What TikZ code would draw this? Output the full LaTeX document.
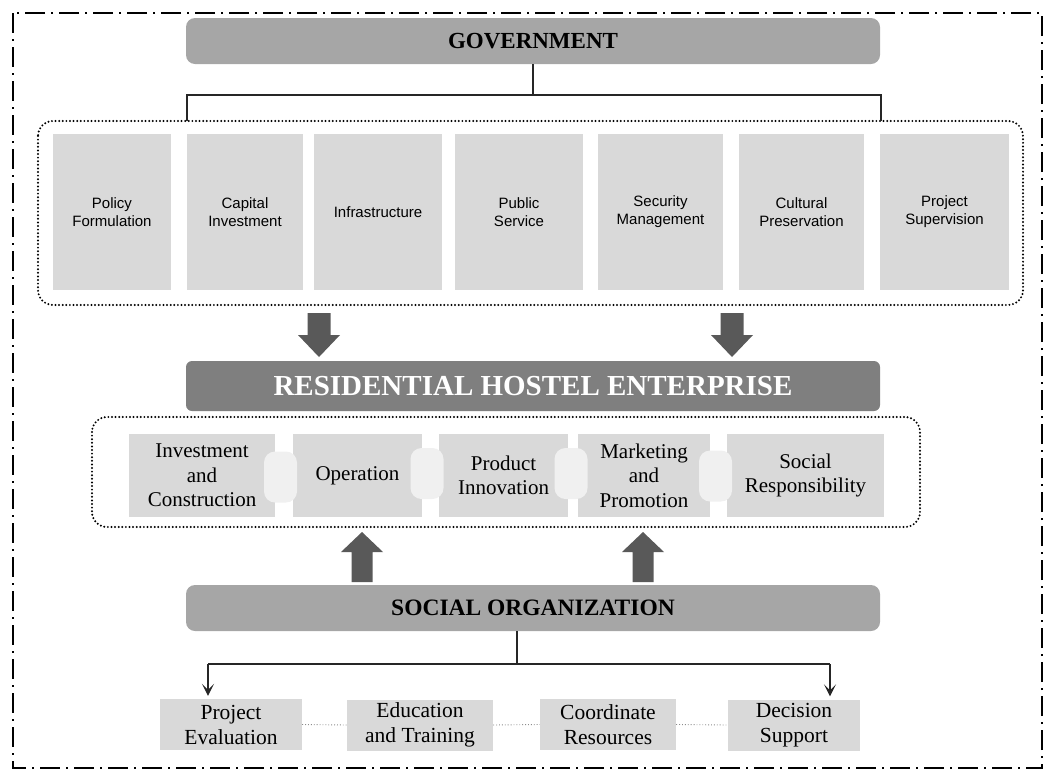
\documentclass[tikz,border=0pt]{standalone}
\usepackage{fontspec}
\setmainfont{Liberation Serif}
\newfontfamily\arialf{Liberation Sans}
\usetikzlibrary{arrows.meta}
\definecolor{barlight}{HTML}{A6A6A6}
\definecolor{bardark}{HTML}{7F7F7F}
\definecolor{boxgray}{HTML}{D9D9D9}
\definecolor{barrelc}{HTML}{F0F0F0}
\definecolor{arrowc}{HTML}{595959}
\tikzset{
  topbox/.style={fill=boxgray, minimum height=156pt, inner sep=0pt, align=center,
    font=\arialf\fontsize{15}{18}\selectfont},
  midbox/.style={fill=boxgray, minimum height=83pt, inner sep=0pt, align=center,
    font=\fontsize{21}{24.5}\selectfont},
  botbox/.style={fill=boxgray, minimum height=51pt, inner sep=0pt, align=center,
    font=\fontsize{21.5}{25}\selectfont},
  barrel/.style={fill=barrelc, rounded corners=11pt, minimum width=33pt, minimum height=51pt, inner sep=0pt},
  bar/.style={rounded corners=9pt, minimum width=694pt, inner sep=0pt},
  dotbox/.style={draw=black, line width=2.2pt, line cap=round, dash pattern=on 0pt off 3.6pt, rounded corners=15pt},
  frame/.style={draw=black, line width=2pt, dash pattern=on 20pt off 6pt on 2pt off 6pt},
  conn/.style={draw=black!85, line width=1.3pt},
  connarrow/.style={conn, -{Stealth[length=12pt,width=12pt,inset=6pt]}},
  graydots/.style={draw=black!45, line width=0.9pt, dotted},
  blkdown/.pic={\fill[arrowc] (-11.5,0) -- (11.5,0) -- (11.5,22) -- (21,22) -- (0,44) -- (-21,22) -- (-11.5,22) -- cycle;},
  blkup/.pic={\fill[arrowc] (-10.5,50) -- (10.5,50) -- (10.5,20) -- (21,20) -- (0,0) -- (-21,20) -- (-10.5,20) -- cycle;}
}
\begin{document}
\begin{tikzpicture}[x=1pt,y=-1pt]
\useasboundingbox (0,0) rectangle (1044,772);
% outer frame
\draw[frame] (13,13) rectangle (1042,768);

% government
\node[bar, fill=barlight, minimum height=46pt, font=\bfseries\fontsize{23}{25}\selectfont] (gov) at (533,41) {GOVERNMENT};
\draw[dotbox] (38,121) rectangle (1023,305);
\coordinate (gj) at (533,95);
\coordinate (gl) at (187,95);
\coordinate (gr) at (881,95);
\coordinate (glb) at (187,121);
\coordinate (grb) at (881,121);
\draw[conn] (gov.south) -- (gj);
\draw[conn] (glb) -- (gl) -- (gr) -- (grb);

\node[topbox, minimum width=118pt] (t1) at (112,212) {Policy\\Formulation};
\node[topbox, minimum width=116pt] (t2) at (245,212) {Capital\\Investment};
\node[topbox, minimum width=128pt] (t3) at (378,212) {Infrastructure};
\node[topbox, minimum width=128pt] (t4) at (519,212) {Public\\Service};
\node[topbox, minimum width=125pt] (t5) at (660.5,212) {Security\\Management};
\node[topbox, minimum width=125pt] (t6) at (801.5,212) {Cultural\\Preservation};
\node[topbox, minimum width=129pt] (t7) at (944.5,212) {Project\\Supervision};

\pic at (319,313) {blkdown};
\pic at (732,313) {blkdown};

% enterprise
\node[bar, fill=bardark, rounded corners=6pt, minimum height=50pt, text=white, font=\bfseries\fontsize{29}{31}\selectfont] (rhe) at (533,386) {RESIDENTIAL HOSTEL ENTERPRISE};
\draw[dotbox] (92,417) rectangle (920,527);

\node[midbox, minimum width=146pt] (m1) at (202,475.5) {Investment\\and\\Construction};
\node[midbox, minimum width=129pt] (m2) at (357.5,475.5) {Operation};
\node[midbox, minimum width=129pt] (m3) at (503.5,475.5) {Product\\Innovation};
\node[midbox, minimum width=132pt] (m4) at (644,475.5) {Marketing\\and\\Promotion};
\node[midbox, minimum width=157pt] (m5) at (805.5,475.5) {Social\\Responsibility};
\node[barrel] (c1) at (280.5,477) {};
\node[barrel] (c2) at (427,473.5) {};
\node[barrel] (c3) at (571,473.5) {};
\node[barrel] (c4) at (715.5,476) {};

\pic at (362,532) {blkup};
\pic at (643,532) {blkup};

% social organization
\node[bar, fill=barlight, minimum height=46pt, font=\bfseries\fontsize{23.5}{25}\selectfont] (so) at (533,608) {SOCIAL ORGANIZATION};
\coordinate (sj) at (517,664);
\coordinate (sl) at (208,664);
\coordinate (sr) at (830,664);
\coordinate (so0) at (517,631);

\node[botbox, minimum width=142pt] (b1) at (231,724.5) {Project\\Evaluation};
\node[botbox, minimum width=146pt] (b2) at (420,725) {Education\\and Training};
\node[botbox, minimum width=136pt] (b3) at (608,724.5) {Coordinate\\Resources};
\node[botbox, minimum width=132pt] (b4) at (794,725) {Decision\\Support};

\draw[conn] (so0) -- (sj);
\draw[conn] (sl) -- (sr);
\draw[connarrow] (sl) -- ([yshift=3pt]sl |- b1.north);
\draw[connarrow] (sr) -- ([yshift=3pt]sr |- b4.north);
\draw[graydots] (b1.east) -- (b2.west);
\draw[graydots] (b2.east) -- (b3.west);
\draw[graydots] (b3.east) -- (b4.west);
\end{tikzpicture}
\end{document}
